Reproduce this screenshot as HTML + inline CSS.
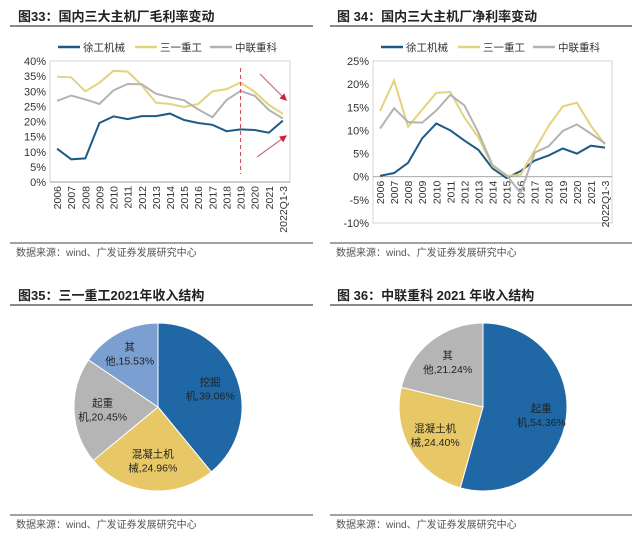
<!DOCTYPE html>
<html><head><meta charset="utf-8"><style>
body{margin:0;background:#fff;}
svg{display:block;font-family:"Liberation Sans","Noto Sans CJK SC",sans-serif;}
</style></head><body>
<svg id="s" width="640" height="539" viewBox="0 0 640 539">
<g>
<text x="18" y="21" font-size="13" font-weight="bold" fill="#222">图33：国内三大主机厂毛利率变动</text>
<line x1="10" y1="26" x2="313" y2="26" stroke="#444" stroke-width="1.2"/>
<line x1="10" y1="243" x2="313" y2="243" stroke="#444" stroke-width="1"/>
<text x="16" y="256" font-size="10" fill="#555">数据来源：wind、广发证券发展研究中心</text>
</g>
<g>
<text x="337" y="21" font-size="13" font-weight="bold" fill="#222">图 34：国内三大主机厂净利率变动</text>
<line x1="330" y1="26" x2="632" y2="26" stroke="#444" stroke-width="1.2"/>
<line x1="330" y1="243" x2="632" y2="243" stroke="#444" stroke-width="1"/>
<text x="336" y="256" font-size="10" fill="#555">数据来源：wind、广发证券发展研究中心</text>
</g>
<g>
<text x="18" y="300" font-size="13" font-weight="bold" fill="#222">图35：三一重工2021年收入结构</text>
<line x1="10" y1="305" x2="313" y2="305" stroke="#444" stroke-width="1.2"/>
<line x1="10" y1="515" x2="313" y2="515" stroke="#444" stroke-width="1"/>
<text x="16" y="528" font-size="10" fill="#555">数据来源：wind、广发证券发展研究中心</text>
</g>
<g>
<text x="337" y="300" font-size="13" font-weight="bold" fill="#222">图 36：中联重科 2021 年收入结构</text>
<line x1="330" y1="305" x2="632" y2="305" stroke="#444" stroke-width="1.2"/>
<line x1="330" y1="515" x2="632" y2="515" stroke="#444" stroke-width="1"/>
<text x="336" y="528" font-size="10" fill="#555">数据来源：wind、广发证券发展研究中心</text>
</g>
<g id="c1"></g>
<g id="c2"></g>
<g id="p1"></g>
<g id="p2"></g>
</svg>
<script>
const categories=["2006","2007","2008","2009","2010","2011","2012","2013","2014","2015","2016","2017","2018","2019","2020","2021","2022Q1-3"];
const seriesNames=["徐工机械","三一重工","中联重科"];
const grossXCMG=[11,7.5,7.8,19.5,21.7,20.8,21.8,21.8,22.6,20.5,19.5,18.9,16.8,17.4,17.2,16.3,20.3];
const grossSany=[34.8,34.6,30,32.8,36.8,36.5,32,26.2,25.8,24.8,25.8,30,30.7,32.9,29.8,25.5,22.5];
const grossZoomlion=[26.8,28.6,27.3,25.8,30.3,32.4,32.3,29.2,28,27,24,21.4,27.1,30.1,28.5,23.8,21];
const grossTicks=[0,5,10,15,20,25,30,35,40];
const netXCMG=[0.2,0.8,3,8.3,11.5,10,7.8,5.8,1.8,-0.3,1.2,3.5,4.6,6.1,5,6.7,6.3];
const netSany=[14.2,20.8,10.8,14.5,18.1,18.3,12.8,8.5,2.3,0.2,0.4,5.8,11,15.2,16,11,7];
const netZoomlion=[10.4,14.8,11.8,11.7,14.3,17.7,15.4,9.5,2.5,0.3,-3.5,5.2,6.6,9.9,11.3,9.3,7.2];
const netTicks=[-10,-5,0,5,10,15,20,25];
const sanyLabels=["挖掘机","混凝土机械","起重机","其他"];
const sanyValues=[39.06,24.96,20.45,15.53];
const zoomLabels=["起重机","混凝土机械","其他"];
const zoomValues=[54.36,24.40,21.24];
const colors=["#1d5a86","#e3d37c","#b3b3b3"];
const NS="http://www.w3.org/2000/svg";
function mk(p,tag,a,txt){const e=document.createElementNS(NS,tag);for(const k in a)e.setAttribute(k,a[k]);if(txt!==undefined)e.textContent=txt;p.appendChild(e);return e;}

function lineChart(g,o){
  const x=i=>o.left+(i+0.5)*(o.right-o.left)/categories.length;
  const y=v=>o.bot-(v-o.min)/(o.max-o.min)*(o.bot-o.top);
  const frame=mk(g,'rect',{x:o.left,y:o.top,width:o.right-o.left,height:o.bot-o.top,fill:'none',stroke:'#ccc','stroke-width':0.8});
  
  
  o.ticks.forEach(t=>{
    const tl=mk(g,'text',{x:o.left-4,y:y(t)+4,'text-anchor':'end','font-size':11,fill:'#333'},t+'%');
    
    
  });
  const zy=y(0);
  mk(g,'line',{x1:o.left,y1:zy,x2:o.right,y2:zy,stroke:'#888','stroke-width':0.8});
  categories.forEach((c,i)=>{
    const xt=mk(g,'text',{x:0,y:0,'text-anchor':'end','font-size':10.5,fill:'#333',transform:`translate(${x(i)+4},${zy+4}) rotate(-90)`},c);
    
    
  });
  o.series.forEach((s,k)=>{
    const d=s.map((v,i)=>(i?'L':'M')+x(i).toFixed(1)+','+y(v).toFixed(1)).join('');
    const p=mk(g,'path',{d:d,fill:'none',stroke:colors[k],'stroke-width':2});
    
    
  });
  const lx=[o.left+8,o.left+85,o.left+160];
  seriesNames.forEach((n,k)=>{
    const lg=mk(g,'g',{});
    
    
    mk(lg,'line',{x1:lx[k],y1:47,x2:lx[k]+22,y2:47,stroke:colors[k],'stroke-width':2.5});
    mk(lg,'text',{x:lx[k]+25,y:51,'font-size':10.5,fill:'#333'},n);
  });
  return {x,y};
}
const a1=lineChart(document.getElementById('c1'),{left:50,right:290,top:61,bot:182,min:0,max:40,ticks:grossTicks,series:[grossXCMG,grossSany,grossZoomlion]});
const g1=document.getElementById('c1');
const dl=mk(g1,'line',{x1:a1.x(13),y1:68,x2:a1.x(13),y2:174,stroke:'#d04050','stroke-width':1,'stroke-dasharray':'4,3'});


const defs=mk(document.getElementById('s'),'defs',{});
const mkr=mk(defs,'marker',{id:'ah',markerWidth:6,markerHeight:6,refX:5,refY:3,orient:'auto'});
mk(mkr,'path',{d:'M0,0L6,3L0,6Z',fill:'#d0203a'});
const ar1=mk(g1,'line',{x1:260,y1:74,x2:286,y2:100,stroke:'#c07080','stroke-width':1.2,'marker-end':'url(#ah)'});


const ar2=mk(g1,'line',{x1:257,y1:157,x2:286,y2:136,stroke:'#c07080','stroke-width':1.2,'marker-end':'url(#ah)'});


lineChart(document.getElementById('c2'),{left:373,right:612,top:61,bot:223,min:-10,max:25,ticks:netTicks,series:[netXCMG,netSany,netZoomlion]});

function pie(g,cx,cy,r,vals,labels,cols,lpos){
  const tot=vals.reduce((a,b)=>a+b,0);let ang=0;
  vals.forEach((v,i)=>{
    const a0=ang,a1=ang+v/tot*2*Math.PI;ang=a1;
    const p0=[cx+r*Math.sin(a0),cy-r*Math.cos(a0)],p1=[cx+r*Math.sin(a1),cy-r*Math.cos(a1)];
    const s=mk(g,'path',{d:`M${cx},${cy}L${p0[0]},${p0[1]}A${r},${r} 0 ${a1-a0>Math.PI?1:0} 1 ${p1[0]},${p1[1]}Z`,fill:cols[i],stroke:'#fff','stroke-width':1});
    
    
    const L=labels[i],split=L.length>=4?4:L.length-1;
    const am=(a0+a1)/2,lr=r*lpos[i];
    const lx=cx+lr*Math.sin(am),ly=cy-lr*Math.cos(am);
    const t=mk(g,'text',{x:lx,y:ly-3,'text-anchor':'middle','font-size':10.5,fill:'#222'});
    
    
    mk(t,'tspan',{x:lx,dy:0},L.slice(0,split));
    mk(t,'tspan',{x:lx,dy:14},L.slice(split)+','+v.toFixed(2)+'%');
  });
}
pie(document.getElementById('p1'),158,407,84,sanyValues,sanyLabels,["#2068a5","#e8c866","#b5b5b5","#7b9fd0"],[0.66,0.64,0.66,0.72]);
pie(document.getElementById('p2'),483,407,84,zoomValues,zoomLabels,["#2068a5","#e8c866","#b5b5b5"],[0.7,0.66,0.68]);
</script>
</body></html>
